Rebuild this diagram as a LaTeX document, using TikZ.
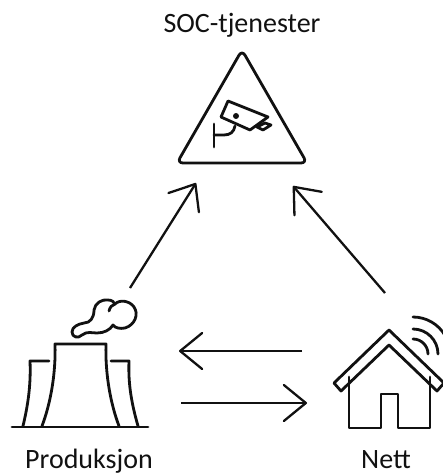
\documentclass[tikz,border=0pt]{standalone}
\usepackage{fontspec}
\setmainfont{Carlito}
\usetikzlibrary{arrows.meta}
\definecolor{inkblack}{HTML}{111111}
\tikzset{
  icon/.style={draw=inkblack,line width=2.8pt,line join=round,line cap=round},
  flow/.style={draw=inkblack,line width=2.3pt,-{Straight Barb[length=22pt,width=36pt,line width=2.3pt,round]}},
  caption/.style={text=inkblack,font=\fontsize{28}{30}\selectfont,inner sep=0pt,anchor=base}
}
\begin{document}
\begin{tikzpicture}[x=1pt,y=-1pt]
    \useasboundingbox (0,0) rectangle (442,476);
    \node[caption] (soc) at (242,33) {SOC-tjenester};
    \node[caption] (prod) at (89,468) {Produksjon};
    \node[caption] (nett) at (386,468) {Nett};
    % camera sign
    \draw[icon,rounded corners=6pt] (242,50) -- (177,163) -- (307,163) -- cycle;
    \draw[icon] (228,101) -- (268,117) -- (250,130) -- (221,117) -- cycle;
    \draw[icon] (257,127) -- (265,123) -- (271,125) -- (263,130) -- cycle;
    \fill[inkblack] (236,116) circle (3pt);
    \draw[icon] (214,124) -- (214,147);
    \draw[icon] (214,135) -- (224,135) .. controls (230,135) and (234,132) .. (235,126);
    % plant
    \draw[icon] (12,427) -- (148,427);
    \draw[icon] (42,426) .. controls (50,405) and (56,375) .. (55,344) -- (106,344) .. controls (105,375) and (111,405) .. (119,426);
    \draw[icon] (23,426) .. controls (28,405) and (31,385) .. (30,361) -- (49,361);
    \draw[icon] (138,426) .. controls (132,405) and (128,385) .. (129,361) -- (111,361);
    \draw[icon] (82,335) .. controls (78,339) and (72,337) .. (72,332) .. controls (72,327) and (78,324) .. (84,323)
      .. controls (90,323) and (94,318) .. (94,310) .. controls (95,303) and (102,299) .. (108,300)
      .. controls (112,300) and (114,302) .. (115,304) .. controls (120,299) and (130,301) .. (134,307)
      .. controls (139,314) and (135,325) .. (125,328) .. controls (120,329) and (115,328) .. (113,325)
      .. controls (110,330) and (104,333) .. (97,333) .. controls (92,333) and (87,331) .. (82,335) -- cycle;
    \draw[icon] (115,304) .. controls (112,305) and (110,307) .. (109,311);
    % house
    \draw[icon] (334,383) -- (389,330) -- (444,383) -- (437,391) -- (389,345) -- (341,391) -- cycle;
    \draw[icon] (349,377) -- (349,428) -- (381,428) -- (381,394) -- (398,394) -- (398,428) -- (430,428) -- (430,377);
    \foreach \r/\a in {15/0,25/0,37/30}
      \draw[icon] (413,354-\r) arc[start angle=90,end angle=\a,radius=\r pt];
    % flows
    \coordinate (prodout) at (130,288);
    \coordinate (socleft) at (196,183);
    \coordinate (nettout) at (385,293);
    \coordinate (socright) at (293,186);
    \coordinate (nettleft) at (302,351);
    \coordinate (prodin) at (179,351);
    \coordinate (prodright) at (181,403);
    \coordinate (nettin) at (307,403);
    \draw[flow] (prodout) -- (socleft);
    \draw[flow] (nettout) -- (socright);
    \draw[flow] (nettleft) -- (prodin);
    \draw[flow] (prodright) -- (nettin);
  \end{tikzpicture}
\end{document}
